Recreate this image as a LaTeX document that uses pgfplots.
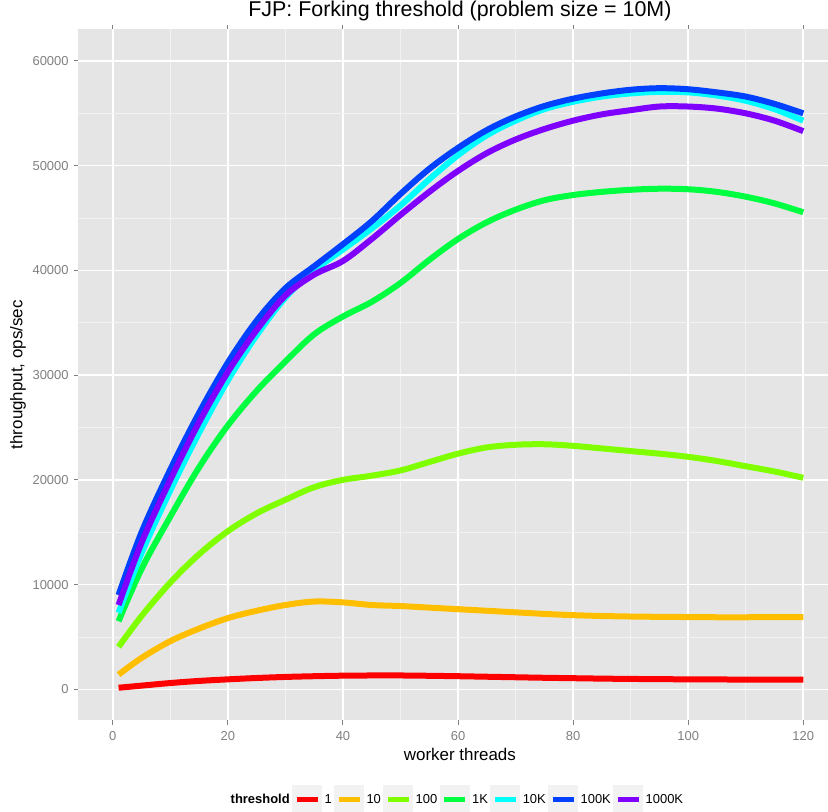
\documentclass[border=0pt]{standalone}
\usepackage{pgfplots}
\pgfplotsset{compat=1.18}
\usepackage{fontspec}
\setmainfont{Liberation Sans}
\definecolor{bggray}{HTML}{E5E5E5}
\definecolor{minorgrid}{HTML}{F2F2F2}
\definecolor{tickgray}{HTML}{7F7F7F}
\definecolor{legbox}{HTML}{F2F2F2}
\definecolor{cA}{HTML}{FF0000}
\definecolor{cB}{HTML}{FFBF00}
\definecolor{cC}{HTML}{80FF00}
\definecolor{cD}{HTML}{00FF40}
\definecolor{cE}{HTML}{00FFFF}
\definecolor{cF}{HTML}{0040FF}
\definecolor{cG}{HTML}{7F00FF}

\pgfplotstableread{
x    t1    t10   t100  t1K   t10K  t100K t1000K
1    150   1400  4050  6500  7300  9000  8050
5    350   3000  7000  11500 13000 15000 14000
10   600   4600  10200 16500 19000 21000 20000
15   800   5800  12900 21200 24500 26400 25500
20   950   6800  15100 25200 29500 31200 30300
25   1080  7500  16800 28500 33800 35200 34300
30   1180  8050  18100 31300 37400 38300 37600
35   1250  8380  19300 33900 40000 40400 39600
40   1300  8300  20000 35600 42000 42500 40900
45   1320  8050  20400 37000 44000 44700 43000
50   1320  7950  20900 38800 46200 47300 45300
55   1290  7800  21700 41000 48700 49700 47500
60   1250  7650  22500 43000 51000 51700 49500
65   1200  7500  23100 44600 52900 53400 51200
70   1150  7350  23350 45800 54300 54700 52500
75   1100  7200  23400 46700 55400 55700 53500
80   1060  7080  23250 47200 56100 56400 54300
85   1020  7000  23000 47500 56600 56900 54900
90   990   6950  22750 47700 56900 57250 55300
95   970   6920  22500 47800 57050 57400 55650
100  950   6900  22200 47750 57000 57300 55650
105  940   6880  21800 47500 56700 57000 55450
110  930   6880  21300 47040 56200 56600 55000
115  930   6890  20800 46400 55400 55900 54300
120  930   6900  20200 45550 54300 55000 53300
}\data

\begin{document}
\begin{tikzpicture}
\begin{axis}[
  name=ax,
  scale only axis,
  width=749.7bp, height=691bp,
  xmin=-6, xmax=124.3, ymin=-2960, ymax=63025,
  scaled y ticks=false, scaled x ticks=false,
  axis background/.style={fill=bggray},
  axis line style={draw=none},
  grid=both,
  major grid style={draw=white, line width=1.6bp},
  minor grid style={draw=minorgrid, line width=0.7bp},
  xtick={0,20,40,60,80,100,120},
  xticklabels={0,20,40,60,80,100,120},
  minor xtick={10,30,50,70,90,110},
  ytick={0,10000,20000,30000,40000,50000,60000},
  yticklabels={0,10000,20000,30000,40000,50000,60000},
  minor ytick={5000,15000,25000,35000,45000,55000},
  tick align=outside,
  major tick length=4.5bp, minor tick length=0bp,
  tick style={draw=tickgray, line width=1bp},
  ticklabel style={font=\fontsize{13}{15}\selectfont, text=tickgray},
  xticklabel style={inner sep=0pt, anchor=north, yshift=-6bp},
  yticklabel style={inner sep=0pt, anchor=east, xshift=-5bp},
  title={FJP: Forking threshold (problem size = 10M)},
  title style={at={(axis description cs:0.509,1.0178)}, anchor=center, inner sep=0pt, font=\fontsize{21.5}{24}\selectfont},
  xlabel={worker threads},
  xlabel style={at={(axis description cs:0.509,-0.0488)}, anchor=center, inner sep=0pt, font=\fontsize{17}{20}\selectfont},
  ylabel={throughput, ops/sec},
  ylabel style={at={(axis description cs:-0.0804,0.5)}, anchor=center, rotate=0, inner sep=0pt, font=\fontsize{17}{20}\selectfont},
  legend columns=-1,
  legend style={at={(axis description cs:0.1997,-0.1153)}, anchor=west, draw=none, fill=none, inner sep=0pt,
    font=\fontsize{13}{15}\selectfont,
    nodes={inner sep=0pt},
    /tikz/every odd column/.append style={column sep=2.5bp},
    /tikz/every even column/.append style={column sep=2.3bp}},
  legend image code/.code={%
    \fill[legbox] (0bp,-12bp) rectangle (24bp,12bp);
    \draw[#1, line width=5bp] (1.5bp,0bp) -- (22.5bp,0bp);},
  every axis plot/.append style={line width=6bp, smooth, tension=0.55, no markers, line cap=butt},
]
\addlegendimage{empty legend}
\addlegendentry{\textbf{threshold}}
\addplot[cA] table[x=x,y=t1] {\data}; \addlegendentry{1}
\addplot[cB] table[x=x,y=t10] {\data}; \addlegendentry{10}
\addplot[cC] table[x=x,y=t100] {\data}; \addlegendentry{100}
\addplot[cD] table[x=x,y=t1K] {\data}; \addlegendentry{1K}
\addplot[cE] table[x=x,y=t10K] {\data}; \addlegendentry{10K}
\addplot[cF] table[x=x,y=t100K] {\data}; \addlegendentry{100K}
\addplot[cG] table[x=x,y=t1000K] {\data}; \addlegendentry{1000K}
\end{axis}
\pgfresetboundingbox
\path[use as bounding box] ([xshift=-78.3bp,yshift=-91.7bp]ax.south west) rectangle ([yshift=29.3bp]ax.north east);
\end{tikzpicture}
\end{document}
